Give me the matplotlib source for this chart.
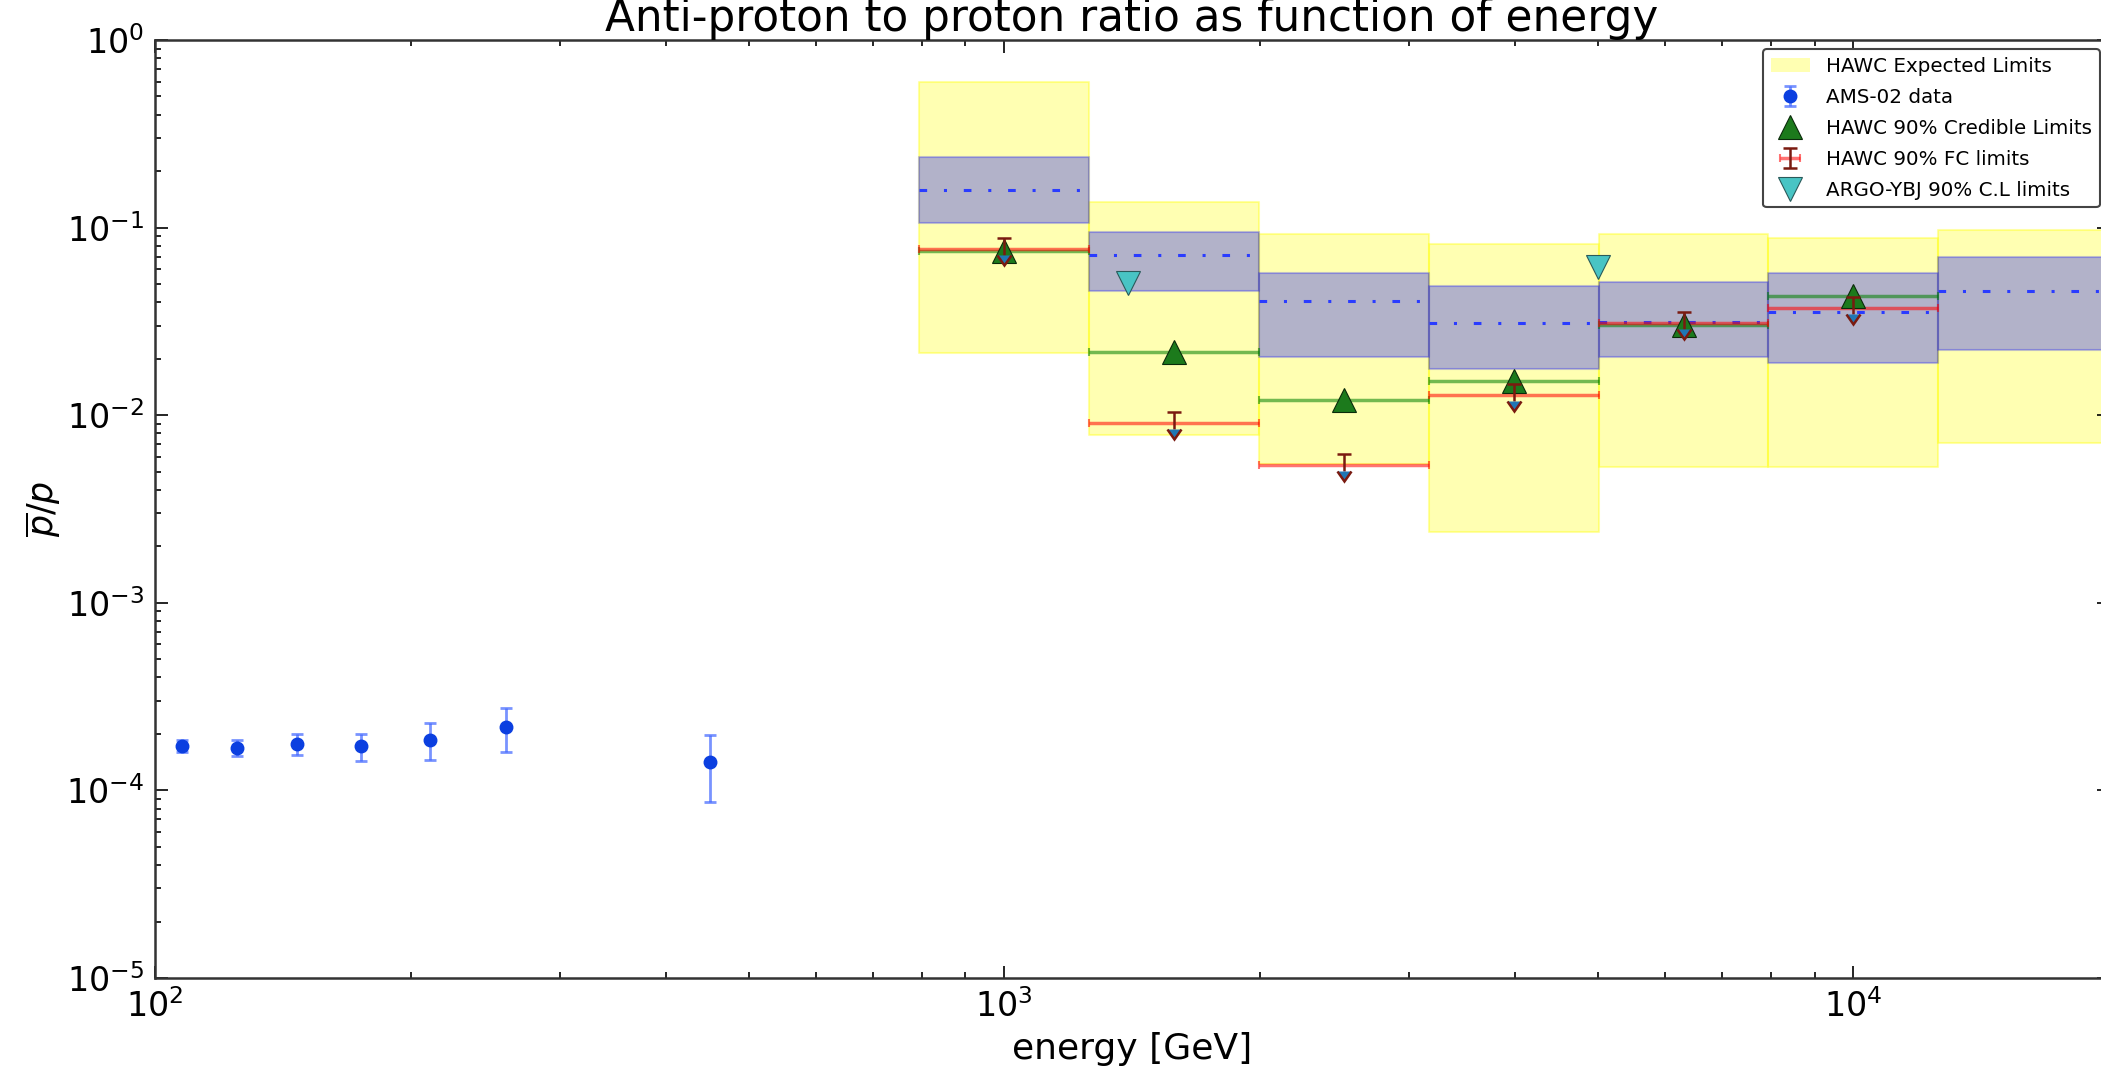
import numpy as np
import matplotlib
matplotlib.use("Agg")
import matplotlib.pyplot as plt
from matplotlib.patches import Patch

# ---------------- data ----------------
ams_energy = [107.5, 125, 147, 175, 211, 259, 450]
ams_ratio = [1.73e-4, 1.69e-4, 1.77e-4, 1.72e-4, 1.86e-4, 2.17e-4, 1.42e-4]
ams_err = [0.12e-4, 0.165e-4, 0.22e-4, 0.285e-4, 0.415e-4, 0.57e-4, 0.55e-4]

bin_edges = [794, 1259, 1995, 3162, 5012, 7943, 12589, 19953]
exp_2s_hi = [0.600, 0.1375, 0.0925, 0.0815, 0.092, 0.0877, 0.097]
exp_2s_lo = [0.0214, 0.0078, 0.0055, 0.00237, 0.00532, 0.00532, 0.00708]
exp_1s_hi = [0.237, 0.0944, 0.057, 0.049, 0.0515, 0.057, 0.070]
exp_1s_lo = [0.1054, 0.0461, 0.0204, 0.01757, 0.0205, 0.0189, 0.0223]
exp_median = [0.159, 0.0714, 0.0406, 0.0309, 0.0315, 0.0356, 0.0461]

hawc_energy = [1000, 1585, 2512, 3981, 6310, 10000]
cred_limit = [0.075, 0.0216, 0.01205, 0.0152, 0.0303, 0.0432]
fc_limit = [0.0766, 0.00912, 0.00543, 0.0128, 0.0311, 0.0371]

argo_energy = [1400, 5000]
argo_limit = [0.0508, 0.0615]

# ---------------- figure ----------------
W, H = 2101, 1075
fig = plt.figure(figsize=(W / 100, H / 100), dpi=100)
ax = fig.add_axes([155 / W, 1 - 978 / H, (2109 - 155) / W, (978 - 40) / H])
ax.set_xscale("log")
ax.set_yscale("log")

edges = np.array(bin_edges, dtype=float)
for i in range(len(edges) - 1):
    xs = [edges[i], edges[i + 1]]
    ax.fill_between(xs, exp_2s_lo[i], exp_2s_hi[i], facecolor=(1, 1, 0, 0.3),
                    edgecolor=(1, 1, 0, 0.35), lw=1.5, zorder=1)
for i in range(len(edges) - 1):
    xs = [edges[i], edges[i + 1]]
    ax.fill_between(xs, exp_1s_lo[i], exp_1s_hi[i], facecolor=(0, 0, 1, 0.3),
                    edgecolor=(0, 0, 1, 0.25), lw=1.5, zorder=2)
    ax.plot(xs, [exp_median[i]] * 2, color="#2a3cff", lw=2.2,
            dashes=(2.5, 5.5, 1.0, 5.5), zorder=3)

hx = np.array(hawc_energy, dtype=float)
xerr = np.vstack([hx - edges[:len(hx)], edges[1:len(hx) + 1] - hx])

ax.errorbar(hx, cred_limit, xerr=xerr, fmt="none", ecolor=(0, 0.5, 0, 0.55),
            elinewidth=2.5, capsize=3, capthick=1.5, zorder=4)
fc_h = ax.errorbar(hx, fc_limit, xerr=xerr, fmt="none", ecolor=(1, 0, 0, 0.55),
                   elinewidth=2.5, capsize=3, capthick=1.5, zorder=4)

cred_h, = ax.plot(hx, cred_limit, "^", ms=17.5, color="#1c7a1c", mec="#0a2a0a",
                  mew=0.8, zorder=5, label="HAWC 90% Credible Limits")

fc = np.array(fc_limit)
fc_top = fc * 1.145
fc_base = fc * 0.93
fc_v = ax.errorbar(hx, fc_top, yerr=fc_top - fc_base, uplims=True, fmt="none",
                   ecolor="#7a1a10", elinewidth=1.8, capsize=5, capthick=1.8,
                   zorder=6)

argo_h, = ax.plot(argo_energy, argo_limit, "v", ms=17.5, color="#48c4c4",
                  mec="#2a5a5a", mew=0.8, zorder=5)

ams_h = ax.errorbar(ams_energy, ams_ratio, yerr=ams_err, fmt="o", ms=9,
                    color="#0b3fe0", mec="#0b3fe0", ecolor=(0.25, 0.4, 1.0, 0.7),
                    elinewidth=2, capsize=4, capthick=2, zorder=5)

ax.set_xlim(100, 20000)
ax.set_ylim(1e-5, 1)

ax.set_title("Anti-proton to proton ratio as function of energy", fontsize=31.5, pad=0)
ax.set_xlabel("energy [GeV]", fontsize=26, labelpad=6)
ax.set_ylabel(r"$\overline{p}/p$", fontsize=25, labelpad=2)

ax.tick_params(which="both", direction="in", top=True, right=True, width=1.2)
ax.tick_params(which="major", length=9, labelsize=24, pad=8)
ax.tick_params(which="minor", length=4.5)
for sp in ax.spines.values():
    sp.set_linewidth(1.8)
    sp.set_color("#333333")

exp_patch = Patch(facecolor=(1, 1, 0, 0.3), edgecolor="none")
leg = ax.legend([exp_patch, ams_h, cred_h, (fc_h, fc_v), argo_h],
                ["HAWC Expected Limits", "AMS-02 data", "HAWC 90% Credible Limits",
                 "HAWC 90% FC limits", "ARGO-YBJ 90% C.L limits"],
                loc="upper right", fontsize=14.3, numpoints=1, fancybox=True,
                framealpha=1, edgecolor="#444444", labelspacing=0.6,
                borderaxespad=0.45)
leg.get_frame().set_linewidth(1.5)

fig.savefig("out.png", dpi=100)
